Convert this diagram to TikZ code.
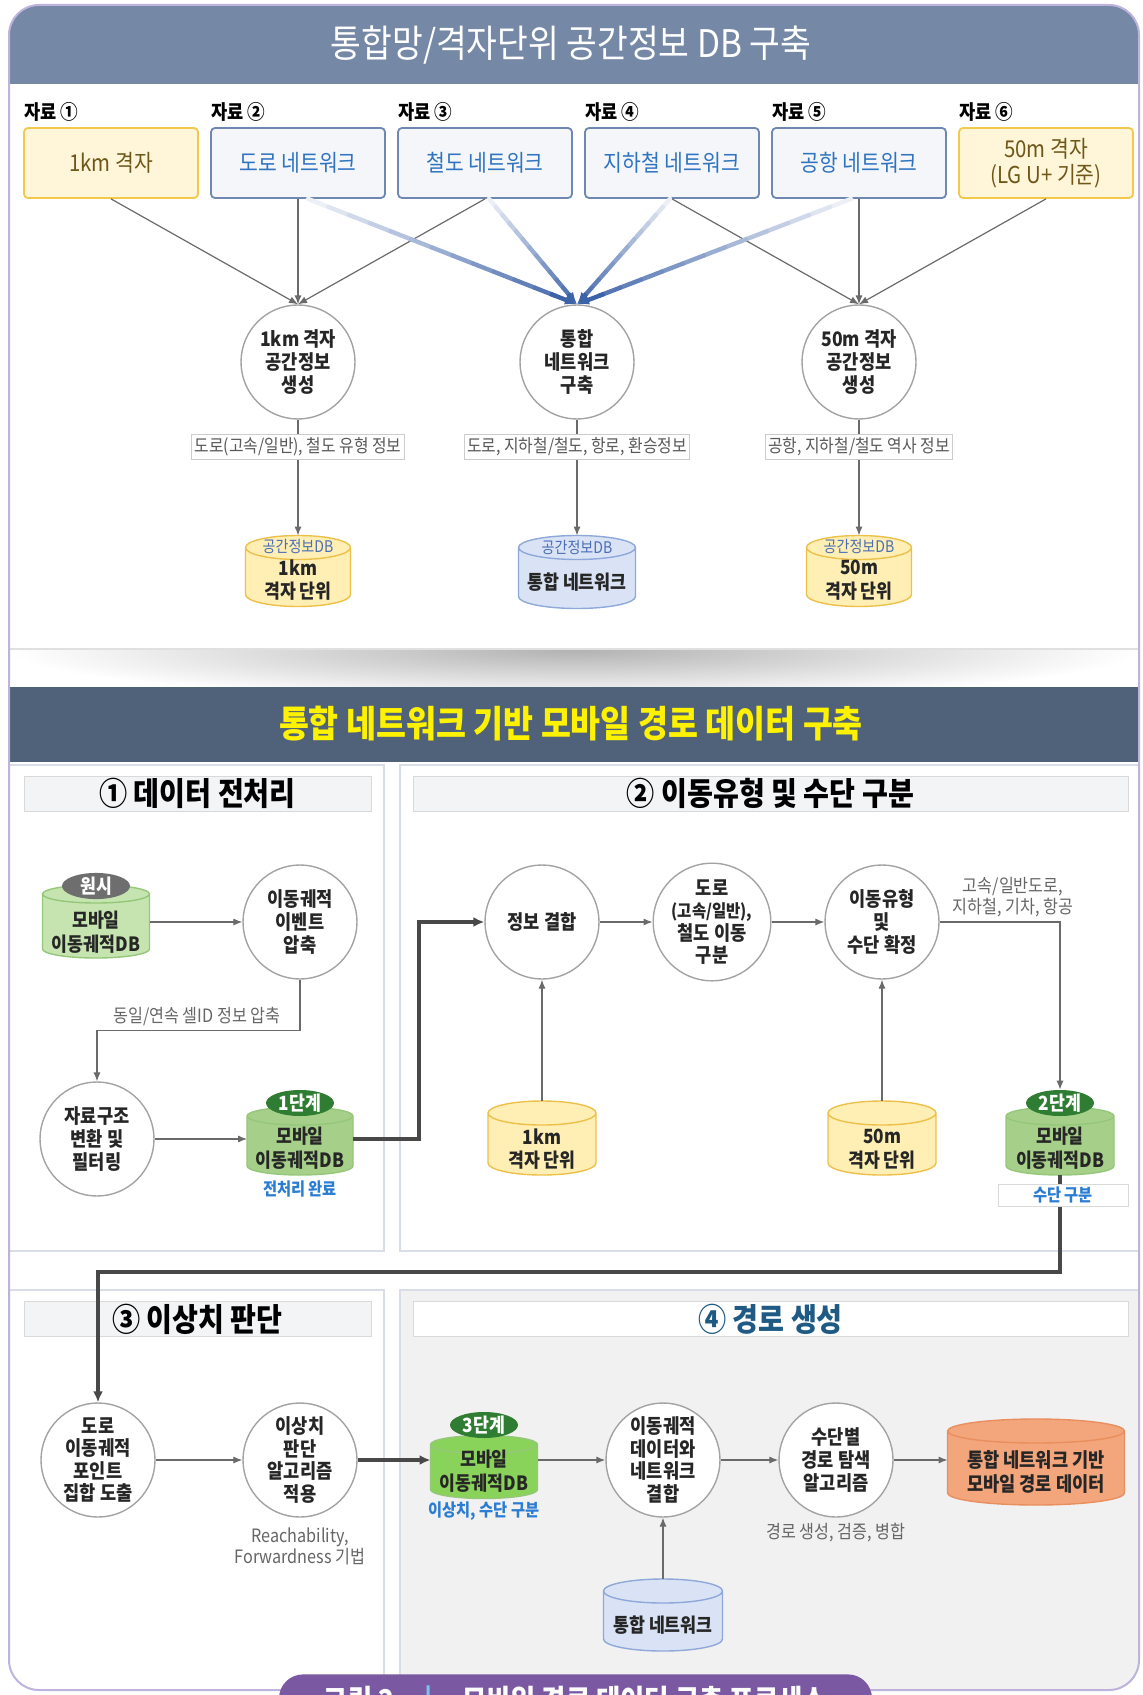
\documentclass[tikz,border=0pt]{standalone}
\usepackage{fontspec}
\setmainfont{Noto Sans CJK KR}[FakeStretch=0.88]
\usetikzlibrary{shapes.geometric,arrows.meta,calc}
\newcommand\myfs[2]{\fontsize{#1}{#2}\selectfont}
\newcommand\cylshape[4]{%
  \draw[fill=#3, draw=#4, line width=0.7pt] let \p1=(#1.north west), \p2=(#1.south east), \n1={(\x2-\x1)/2}, \n2={#2} in
    (\x1,\y1-\n2) -- (\x1,\y2+\n2) arc[start angle=180, end angle=360, x radius=\n1, y radius=\n2]
    -- (\x2,\y1-\n2) arc[start angle=0, end angle=180, x radius=\n1, y radius=\n2] -- cycle
    (\x1,\y1-\n2) arc[start angle=180, end angle=360, x radius=\n1, y radius=\n2];}
\definecolor{framec}{HTML}{BDB3DC}
\definecolor{hdra}{HTML}{7588A6}
\definecolor{hdrb}{HTML}{4F6279}
\definecolor{hdrbt}{HTML}{FFF200}
\definecolor{srcyf}{HTML}{FFF6D9}
\definecolor{srcyd}{HTML}{F2C94C}
\definecolor{srcyt}{HTML}{6E5718}
\definecolor{srcbf}{HTML}{F4F6FA}
\definecolor{srcbd}{HTML}{6F88B2}
\definecolor{srcbt}{HTML}{2F74C0}
\definecolor{circd}{HTML}{A3A3A3}
\definecolor{arrg}{HTML}{6A6A6A}
\definecolor{netblue}{HTML}{3C62A8}
\definecolor{cylyf}{HTML}{FFEFB5}
\definecolor{cylyd}{HTML}{EDC04A}
\definecolor{cylbf}{HTML}{D9E3F5}
\definecolor{cylbd}{HTML}{8FA8DA}
\definecolor{cylgf}{HTML}{C6E4AF}
\definecolor{cylgd}{HTML}{95C77A}
\definecolor{cylgtf}{HTML}{A6D08A}
\definecolor{cylghf}{HTML}{8AD35A}
\definecolor{cylof}{HTML}{F3A67C}
\definecolor{cylod}{HTML}{E98E5E}
\definecolor{bdggray}{HTML}{6E6E6E}
\definecolor{bdggreen}{HTML}{2F7D32}
\definecolor{dbtop}{HTML}{4A6DB5}
\definecolor{capblue}{HTML}{2B7CD3}
\definecolor{pnlc}{HTML}{D9DEE6}
\definecolor{phf}{HTML}{F3F4F6}
\definecolor{pfour}{HTML}{F1F1F1}
\definecolor{tealfour}{HTML}{1E5A84}
\definecolor{capp}{HTML}{7B58A2}
\definecolor{bigc}{HTML}{484848}
\definecolor{barblue}{HTML}{7CC0EE}
\begin{document}
\begin{tikzpicture}[x=0.5pt,y=-0.5pt,
  srcy/.style={rectangle, rounded corners=2pt, draw=srcyd, fill=srcyf, line width=0.9pt, minimum width=87pt, minimum height=35pt, text=srcyt, font=\myfs{11.6}{13}, align=center, inner sep=1pt},
  srcb/.style={srcy, draw=srcbd, fill=srcbf, text=srcbt},
  srclbl/.style={anchor=west, font=\bfseries\myfs{10}{11}, inner sep=0pt},
  proc/.style={circle, draw=circd, fill=white, line width=0.7pt, minimum size=57pt, inner sep=0pt, align=center, font=\bfseries\myfs{10}{11.3}, text=black!85},
  elbl/.style={fill=white, draw=black!20, line width=0.4pt, inner sep=1.5pt, font=\myfs{9}{10}, text=black!65},
  note/.style={font=\myfs{9.2}{10.5}, text=black!60, align=center, inner sep=1pt},
  bnote/.style={font=\bfseries\myfs{8.7}{10}, text=capblue, inner sep=1pt},
  dbbox/.style={rectangle, inner sep=0pt, outer sep=0pt},
  dbtxt/.style={align=center, font=\bfseries\myfs{9.8}{11.8}, inner sep=0pt, text=black!85},
  dbtopl/.style={font=\myfs{8}{9}, text=dbtop, inner sep=0pt},
  badge/.style={ellipse, fill=#1, text=white, font=\bfseries\myfs{9.8}{10.5}, minimum width=34pt, minimum height=12pt, inner sep=0pt},
  arr/.style={draw=arrg, line width=0.6pt, -{Latex[length=4.5pt,width=3.6pt]}},
  bigarr/.style={draw=bigc, line width=1.6pt, -{Latex[length=5.5pt,width=5pt]}},
  pnl/.style={draw=pnlc, line width=0.8pt},
  phdr/.style={fill=phf, draw=black!15, line width=0.5pt, font=\bfseries\myfs{16}{18}, inner sep=0pt},
]
\useasboundingbox (0,0) rectangle (1143,1695);
% ---------- backgrounds ----------
\begin{scope}
\clip[rounded corners=15pt] (9,5) rectangle (1139,1690);
\fill[hdra] (9,5) rectangle (1139,84);
\begin{scope}
\clip (9,649) rectangle (1139,687);
\shade[inner color=black!30, outer color=white] (9,600) rectangle (1139,700);
\end{scope}
\draw[black!12, line width=0.8pt] (9,649) -- (1139,649);
\fill[hdrb] (9,687) rectangle (1139,762);
\draw[pnl] (9,765) rectangle (384,1251);
\draw[pnl] (400,765) rectangle (1139,1251);
\filldraw[pnl, fill=white] (9,1290) rectangle (384,1720);
\filldraw[pnl, fill=pfour] (400,1290) rectangle (1145,1720);
\end{scope}
\draw[framec, line width=1pt, rounded corners=15pt] (9,5) rectangle (1139,1690);

% ---------- section 1 ----------
\node[font=\myfs{19}{21}, text=white] (ttla) at (571,45) {통합망/격자단위 공간정보 DB 구축};
\node[srclbl] (la) at (24,112) {자료 ①};
\node[srclbl] (lb) at (211,112) {자료 ②};
\node[srclbl] (lc) at (398,112) {자료 ③};
\node[srclbl] (ld) at (585,112) {자료 ④};
\node[srclbl] (le) at (772,112) {자료 ⑤};
\node[srclbl] (lf) at (959,112) {자료 ⑥};
\node[srcy] (b1) at (111,163) {1km 격자};
\node[srcb] (b2) at (298,163) {도로 네트워크};
\node[srcb] (b3) at (485,163) {철도 네트워크};
\node[srcb] (b4) at (672,163) {지하철 네트워크};
\node[srcb] (b5) at (859,163) {공항 네트워크};
\node[srcy] (b6) at (1046,163) {50m 격자\\(LG U+ 기준)};
\node[proc] (c1) at (298,362) {1km 격자\\공간정보\\생성};
\node[proc] (c2) at (577,362) {통합\\네트워크\\구축};
\node[proc] (c3) at (859,362) {50m 격자\\공간정보\\생성};

\draw[arr] (b1.south) -- (c1.north);
\draw[arr] (b2.south) -- (c1.north);
\draw[arr] (b3.south) -- (c1.north);
\draw[arr] (b4.south) -- (c3.north);
\draw[arr] (b5.south) -- (c3.north);
\draw[arr] (b6.south) -- (c3.north);
\foreach \src/\dx in {b2/5pt, b3/2pt, b4/-1pt, b5/-4pt}{
  \foreach \i in {0,...,11}{
    \pgfmathsetmacro\ta{\i/12*0.92}
    \pgfmathsetmacro\tb{(\i+1)/12*0.92}
    \pgfmathsetmacro\cc{10+7*\i}
    \draw[line width=2.2pt, netblue!\cc!white, line cap=round] ($([xshift=\dx]\src.south)!\ta!(c2.north)$) -- ($([xshift=\dx]\src.south)!\tb!(c2.north)$);
  }
  \draw[-{Latex[length=6pt,width=5pt]}, line width=2.2pt, netblue] ($([xshift=\dx]\src.south)!0.9!(c2.north)$) -- (c2.north);
}

\node[dbbox, minimum width=52.5pt, minimum height=35.5pt] (d1) at (298,571) {};
\node[dbbox, minimum width=58.5pt, minimum height=36.5pt] (d2) at (577,572) {};
\node[dbbox, minimum width=52.5pt, minimum height=35.5pt] (d3) at (859,571) {};
\cylshape{d1}{6pt}{cylyf}{cylyd}
\cylshape{d2}{6pt}{cylbf}{cylbd}
\cylshape{d3}{6pt}{cylyf}{cylyd}
\node[dbtxt] (d1t) at (298,580) {1km\\격자 단위};
\node[dbtxt] (d2t) at (577,582) {통합 네트워크};
\node[dbtxt] (d3t) at (859,580) {50m\\격자 단위};
\node[dbtopl] (dta) at (298,546) {공간정보DB};
\node[dbtopl] (dtb) at (577,547) {공간정보DB};
\node[dbtopl] (dtc) at (859,546) {공간정보DB};
\draw[arr] (c1.south) -- (d1.north);
\draw[arr] (c2.south) -- (d2.north);
\draw[arr] (c3.south) -- (d3.north);
\node[elbl] (ea) at (298,447) {도로(고속/일반), 철도 유형 정보};
\node[elbl] (eb) at (577,447) {도로, 지하철/철도, 항로, 환승정보};
\node[elbl] (ec) at (859,447) {공항, 지하철/철도 역사 정보};

% ---------- section 2 ----------
\node[font=\bfseries\myfs{18.5}{20}, text=hdrbt] (ttlb) at (571,724) {통합 네트워크 기반 모바일 경로 데이터 구축};
\node[phdr, minimum width=173.5pt, minimum height=17.5pt] (ha) at (197.5,793.5) {① 데이터 전처리};
\node[phdr, minimum width=357.5pt, minimum height=17.5pt] (hb) at (770.5,793.5) {② 이동유형 및 수단 구분};
\node[phdr, minimum width=173.5pt, minimum height=17.5pt] (hc) at (197.5,1319) {③ 이상치 판단};
\node[phdr, fill=white, text=tealfour, minimum width=357.5pt, minimum height=17.5pt] (hd) at (770.5,1319) {④ 경로 생성};

% panel 1
\node[dbbox, minimum width=53.5pt, minimum height=36.5pt] (e1) at (96,921.5) {};
\cylshape{e1}{4.5pt}{cylgf}{cylgd}
\node[dbtxt] (e1t) at (96,932) {모바일\\이동궤적DB};
\node[badge=bdggray] (ba) at (96,886) {원시};
\node[proc] (p1) at (300,922) {이동궤적\\이벤트\\압축};
\node[proc] (p2) at (97,1139) {자료구조\\변환 및\\필터링};
\node[dbbox, minimum width=53pt, minimum height=34pt] (e2) at (300,1141) {};
\cylshape{e2}{4.5pt}{cylgtf}{cylgd}
\node[dbtxt] (e2t) at (300,1148) {모바일\\이동궤적DB};
\node[badge=bdggreen] (bb) at (300,1103) {1단계};
\node[bnote] (na) at (300,1189) {전처리 완료};
\draw[arr] (p1.west -| e1.east) -- (p1.west);
\draw[arr] (p1.south) -- ++(0,51) -| (p2.north);
\node[note] (nb) at (197,1016) {동일/연속 셀ID 정보 압축};
\draw[arr] (p2.east) -- (p2.east -| e2.west);

% panel 2
\node[proc] (q1) at (542,922) {정보 결합};
\node[proc] (q2) at (712,922) {도로\\{\myfs{8.8}{11.3}(고속/일반),}\\철도 이동\\구분};
\node[proc] (q3) at (882,922) {이동유형\\및\\수단 확정};
\node[dbbox, minimum width=54pt, minimum height=37pt] (f1) at (542,1138) {};
\node[dbbox, minimum width=54pt, minimum height=37pt] (f2) at (882,1138) {};
\cylshape{f1}{6pt}{cylyf}{cylyd}
\cylshape{f2}{6pt}{cylyf}{cylyd}
\node[dbtxt] (f1t) at (542,1149) {1km\\격자 단위};
\node[dbtxt] (f2t) at (882,1149) {50m\\격자 단위};
\node[dbbox, minimum width=54pt, minimum height=34pt] (f3) at (1060,1141) {};
\cylshape{f3}{4.5pt}{cylgtf}{cylgd}
\node[dbtxt] (f3t) at (1060,1148) {모바일\\이동궤적DB};
\node[badge=bdggreen] (bc) at (1060,1103) {2단계};
\coordinate (ka) at (419,922);
\draw[bigarr] (p2.east -| e2.east) -| (ka) -- (q1.west);
\draw[arr] (q1.east) -- (q2.west);
\draw[arr] (q2.east) -- (q3.west);
\draw[arr] (f1.north) -- (q1.south);
\draw[arr] (f2.north) -- (q3.south);
\draw[arr] (q3.east) -| (bc.north);
\node[note] (nc) at (1013,897) {고속/일반도로,\\지하철, 기차, 항공};

% panel 3/4
\node[proc] (r1) at (98,1460) {도로\\이동궤적\\포인트\\집합 도출};
\node[proc] (r2) at (300,1460) {이상치\\판단\\알고리즘\\적용};
\coordinate (kb) at (1060,1272);
\draw[bigarr] (f3.south) -- (kb) -| (r1.north);
\node[bnote, fill=white, draw=black!15, line width=0.4pt, minimum width=65pt, minimum height=11pt] (nd) at (1063,1195) {수단 구분};
\node[dbbox, minimum width=53.5pt, minimum height=31.5pt] (g1) at (484,1467) {};
\cylshape{g1}{4.5pt}{cylghf}{cylgd}
\node[dbtxt] (g1t) at (484,1471) {모바일\\이동궤적DB};
\node[badge=bdggreen] (bd) at (484,1425) {3단계};
\node[bnote] (ne) at (484,1511) {이상치, 수단 구분};
\node[note] (nf) at (300,1546) {Reachability,\\Forwardness 기법};
\node[proc] (t1) at (663,1460) {이동궤적\\데이터와\\네트워크\\결합};
\node[proc] (t2) at (836,1460) {수단별\\경로 탐색\\알고리즘};
\node[note] (ng) at (836,1533) {경로 생성, 검증, 병합};
\node[dbbox, minimum width=88.5pt, minimum height=43pt] (g2) at (1036,1462) {};
\cylshape{g2}{6pt}{cylof}{cylod}
\node[dbtxt, font=\bfseries\myfs{10}{12}] (g2t) at (1036,1472) {통합 네트워크 기반\\모바일 경로 데이터};
\node[dbbox, minimum width=59.5pt, minimum height=36pt] (g3) at (663,1615) {};
\cylshape{g3}{6pt}{cylbf}{cylbd}
\node[dbtxt] (g3t) at (663,1625) {통합 네트워크};
\draw[arr] (r1.east) -- (r2.west);
\draw[bigarr] (r2.east) -- (r2.east -| g1.west);
\draw[arr] (r2.east -| g1.east) -- (t1.west);
\draw[arr] (t1.east) -- (t2.west);
\draw[arr] (t2.east) -- (t2.east -| g2.west);
\draw[arr] (g3.north) -- (t1.south);

% caption
\node[fill=capp, rounded corners=12pt, minimum width=296.5pt, minimum height=28pt, anchor=north, text=white, font=\bfseries\myfs{15}{17}] (cap) at (575.5,1674) {그림 2\quad{\color{barblue}|}\quad 모바일 경로 데이터 구축 프로세스};
\end{tikzpicture}
\end{document}
